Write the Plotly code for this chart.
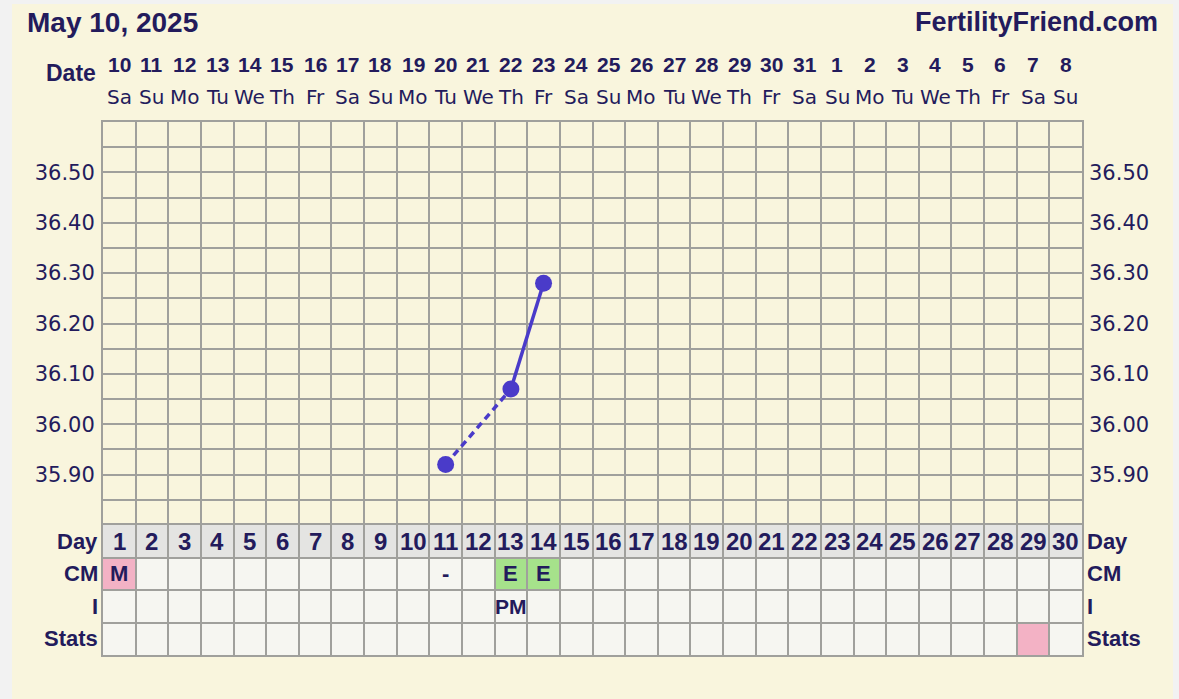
import plotly.graph_objects as go

# ---------------- data ----------------
cycle_days = list(range(1, 31))
date_nums = ["10", "11", "12", "13", "14", "15", "16", "17", "18", "19", "20", "21",
             "22", "23", "24", "25", "26", "27", "28", "29", "30", "31", "1", "2",
             "3", "4", "5", "6", "7", "8"]
weekdays = ["Sa", "Su", "Mo", "Tu", "We", "Th", "Fr", "Sa", "Su", "Mo", "Tu", "We",
            "Th", "Fr", "Sa", "Su", "Mo", "Tu", "We", "Th", "Fr", "Sa", "Su", "Mo",
            "Tu", "We", "Th", "Fr", "Sa", "Su"]
temp_days = [11, 13, 14]
temp_values = [35.92, 36.07, 36.28]
temp_ticks = [35.90, 36.00, 36.10, 36.20, 36.30, 36.40, 36.50]
row_labels = ["Day", "CM", "I", "Stats"]
cm_days = [1, 11, 13, 14]
cm_values = ["M", "-", "E", "E"]
cm_kinds = ["menses", "none", "egg", "egg"]
i_days = [13]
i_values = ["PM"]
stats_days = [29]
title_text = "May 10, 2025"
site_text = "FertilityFriend.com"

# ---------------- style ----------------
W, H = 1179, 699
L, R, T, B = 103, 1082, 122, 655
TEMP_BOTTOM = 525
NAVY = "#231b5c"
GRID = "#a0a09c"
BEIGE = "#f9f5dd"
CELL = "#f6f6f1"
DAYROW = "#e4e4e2"
PINK = "#f3b2c5"
GREEN = "#a6e28b"
LINE = "#4a3bc9"
BOLD = "Liberation Sans"
REG = "DejaVu Sans"

def px(p):
    return (p - L) / (R - L)

def py(p):
    return (B - p) / (B - T)

split = py(TEMP_BOTTOM)

fig = go.Figure()

# dashed segment (gap day between), solid segment
fig.add_trace(go.Scatter(x=temp_days[0:2], y=temp_values[0:2], mode="lines",
                         line=dict(color=LINE, width=3.5, dash="7px,5px"),
                         hoverinfo="skip", showlegend=False))
fig.add_trace(go.Scatter(x=temp_days[1:3], y=temp_values[1:3], mode="lines",
                         line=dict(color=LINE, width=3.5),
                         hoverinfo="skip", showlegend=False))
fig.add_trace(go.Scatter(x=temp_days, y=temp_values, mode="markers",
                         marker=dict(color=LINE, size=17),
                         showlegend=False))
# invisible trace for the right temperature axis
fig.add_trace(go.Scatter(x=[temp_days[0]], y=[temp_values[0]], yaxis="y3",
                         mode="markers", marker=dict(opacity=0),
                         hoverinfo="skip", showlegend=False))
# invisible trace for the table axis
fig.add_trace(go.Scatter(x=[1], y=[0.5], yaxis="y2", mode="markers",
                         marker=dict(opacity=0), hoverinfo="skip", showlegend=False))

shapes = []
# page background
shapes.append(dict(type="rect", xref="paper", yref="paper", layer="below",
                   x0=px(12), x1=px(1173), y0=py(699), y1=py(4),
                   fillcolor=BEIGE, line=dict(width=0)))
# table cells
for d in cycle_days:
    for r in range(4):
        color = DAYROW if r == 0 else CELL
        if r == 1 and d in cm_days:
            k = cm_kinds[cm_days.index(d)]
            if k == "menses":
                color = PINK
            elif k == "egg":
                color = GREEN
        if r == 3 and d in stats_days:
            color = PINK
        shapes.append(dict(type="rect", xref="x", yref="y2", layer="below",
                           x0=d - 0.5, x1=d + 0.5, y0=r, y1=r + 1,
                           fillcolor=color, line=dict(width=0)))

ann = []
ann.append(dict(text=f"<b>{title_text}</b>", xref="paper", yref="paper",
                x=px(25), y=py(22), xanchor="left", yanchor="middle",
                showarrow=False, font=dict(family=BOLD, size=28, color=NAVY)))
ann.append(dict(text=f"<b>{site_text}</b>", xref="paper", yref="paper",
                x=px(1160), y=py(22), xanchor="right", yanchor="middle",
                showarrow=False, font=dict(family=BOLD, size=27, color=NAVY)))
ann.append(dict(text="<b>Date</b>", xref="paper", yref="paper",
                x=px(98), y=py(73), xanchor="right", yanchor="middle",
                showarrow=False, font=dict(family=BOLD, size=23, color=NAVY)))
for d, n, w in zip(cycle_days, date_nums, weekdays):
    ann.append(dict(text=f"<b>{n}</b>", xref="x", yref="paper", x=d, y=py(64),
                    xanchor="center", yanchor="middle", showarrow=False,
                    font=dict(family=BOLD, size=21, color=NAVY)))
    ann.append(dict(text=w, xref="x", yref="paper", x=d, y=py(97),
                    xanchor="center", yanchor="middle", showarrow=False,
                    font=dict(family=REG, size=20, color=NAVY)))
    ann.append(dict(text=f"<b>{d}</b>", xref="x", yref="y2", x=d, y=0.5,
                    xanchor="center", yanchor="middle", showarrow=False,
                    font=dict(family=BOLD, size=24, color=NAVY)))
for d, v in zip(cm_days, cm_values):
    ann.append(dict(text=f"<b>{v}</b>", xref="x", yref="y2", x=d, y=1.5,
                    xanchor="center", yanchor="middle", showarrow=False,
                    font=dict(family=BOLD, size=22, color=NAVY)))
for d, v in zip(i_days, i_values):
    ann.append(dict(text=f"<b>{v}</b>", xref="x", yref="y2", x=d, y=2.5,
                    xanchor="center", yanchor="middle", showarrow=False,
                    font=dict(family=BOLD, size=21, color=NAVY)))
for r, lab in enumerate(row_labels):
    ann.append(dict(text=f"<b>{lab}</b>", xref="paper", yref="y2", x=px(100), y=r + 0.5,
                    xanchor="right", yanchor="middle", showarrow=False,
                    font=dict(family=BOLD, size=22, color=NAVY)))
    ann.append(dict(text=f"<b>{lab}</b>", xref="paper", yref="y2", x=px(1085), y=r + 0.5,
                    xanchor="left", yanchor="middle", showarrow=False,
                    font=dict(family=BOLD, size=22, color=NAVY)))

tick_text = [f"{t:.2f}" for t in temp_ticks]
yfont = dict(family=REG, size=21, color=NAVY)

fig.update_layout(
    width=W, height=H,
    margin=dict(l=L, r=W - R, t=T, b=H - B, pad=0),
    paper_bgcolor="#f2f2f2",
    plot_bgcolor=BEIGE,
    showlegend=False,
    shapes=shapes,
    annotations=ann,
    xaxis=dict(range=[0.5, 30.5], domain=[0, 1], anchor="y2",
               tick0=0.5, dtick=1, showticklabels=False, ticks="",
               showgrid=True, gridcolor=GRID, gridwidth=2,
               showline=True, linecolor=GRID, linewidth=2, mirror="all",
               zeroline=False, fixedrange=True),
    yaxis=dict(range=[35.80, 36.60], domain=[split, 1], anchor="x",
               tickvals=temp_ticks, ticktext=tick_text, ticks="",
               tickfont=yfont, ticklabelstandoff=2,
               showgrid=True, gridcolor=GRID, gridwidth=2,
               minor=dict(tick0=35.80, dtick=0.05, showgrid=True,
                          gridcolor=GRID, gridwidth=2),
               showline=True, linecolor=GRID, linewidth=2, mirror=True,
               zeroline=False, fixedrange=True),
    yaxis3=dict(range=[35.80, 36.60], overlaying="y", side="right", anchor="x",
                tickvals=temp_ticks, ticktext=tick_text, ticks="",
                tickfont=yfont, ticklabelstandoff=6,
                showgrid=False, zeroline=False, showline=False, fixedrange=True),
    yaxis2=dict(range=[4, 0], domain=[0, split], anchor="x",
                tick0=0, dtick=1, showticklabels=False, ticks="",
                showgrid=True, gridcolor=GRID, gridwidth=2,
                showline=True, linecolor=GRID, linewidth=2, mirror=True,
                zeroline=False, fixedrange=True),
)

fig.write_html("out.html", config={"displayModeBar": False},
               post_script="document.body.style.margin='0';document.body.style.overflow='hidden';")
